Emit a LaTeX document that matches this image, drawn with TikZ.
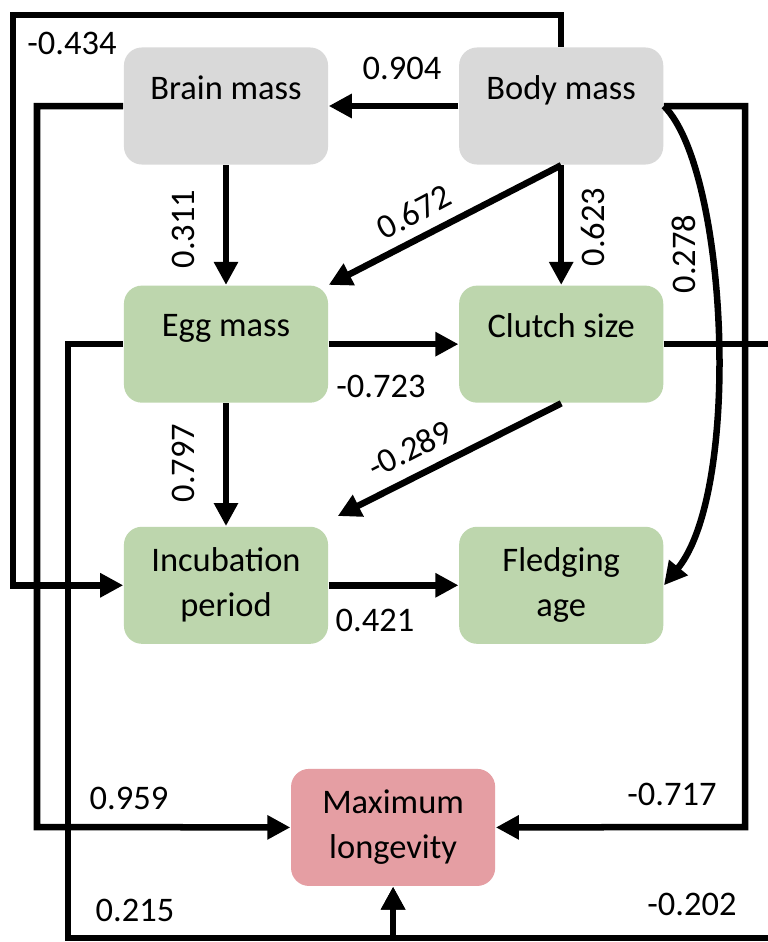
\documentclass[tikz,border=0pt]{standalone}
\usepackage{fontspec}
\setmainfont{Carlito}
\usetikzlibrary{arrows.meta,calc}

\definecolor{boxgray}{RGB}{217,217,217}
\definecolor{boxgreen}{RGB}{189,214,173}
\definecolor{boxred}{RGB}{229,158,163}

\tikzset{
  trait/.style={rounded corners=0.18cm, minimum width=2.04cm, minimum height=1.17cm,
    align=center, inner sep=0pt, font=\fontsize{9.8}{12.8}\selectfont},
  wt/.style={inner sep=0pt, font=\fontsize{9.8}{12}\selectfont},
  link/.style={line width=0.065cm, -{Triangle[length=0.23cm,width=0.23cm]}}
}

\begin{document}
\begin{tikzpicture}[x=0.01cm,y=-0.01cm]
      \path[use as bounding box, fill=white] (0,0) rectangle (768,942);

      % traits
      \node[trait, fill=boxgray] (brain) at (226,106) {Brain mass\\[-6pt]\strut};
      \node[trait, fill=boxgray, right of=brain, xshift=2.35cm] (body) {Body mass\\[-6pt]\strut};
      \node[trait, fill=boxgreen, below of=brain, yshift=-1.38cm] (egg) {Egg mass\\[-6pt]\strut};
      \node[trait, fill=boxgreen, right of=egg, xshift=2.35cm] (clutch) {Clutch size\\[-6pt]\strut};
      \node[trait, fill=boxgreen, below of=egg, yshift=-1.41cm] (inc) {Incubation\\period};
      \node[trait, fill=boxgreen, right of=inc, xshift=2.35cm] (fledge) {Fledging\\age};
      \node[trait, fill=boxred, below of=inc, yshift=-1.42cm, xshift=1.67cm] (long) {Maximum\\longevity};

      % corners of the long links
      \coordinate (c434) at (13,15);
      \coordinate (c959) at (37,827);
      \coordinate (c717) at (745,827);
      \coordinate (c215) at (68,938);
      \coordinate (c202) at (772,938);

      \draw[link] (body) -- (brain);
      \draw[link] (brain) -- (egg);
      \draw[link] (body.south) -- (egg.north east);
      \draw[link] (body) -- (clutch);
      \draw[link] (egg) -- (clutch);
      \draw[link] (egg) -- (inc);
      \draw[link] (clutch.south) -- ($(inc.north east)+(9,-10)$);
      \draw[link] (inc) -- (fledge);
      \draw[link] (body.east) .. controls (728,170) and (742,490) .. (fledge.east);
      \draw[link] (body.north) |- (c434) |- (inc.west);
      \draw[link] (brain.west) -| (c959) -- (long.west);
      \draw[link] (body.east) -| (c717) -- (long.east);
      \draw[link] (egg.west) -| (c215) -| (long.south);
      \draw[link] (clutch.east) -| (c202) -| (long.south);

      % weights
      \node[wt] (w434) at (72,43) {-0.434};
      \node[wt] (w904) at (402,68) {0.904};
      \node[wt, rotate=90] (w311) at (183,229) {0.311};
      \node[wt, rotate=28] (w672) at (414,212) {0.672};
      \node[wt, rotate=90] (w623) at (593,227) {0.623};
      \node[wt, rotate=90] (w278) at (684,254) {0.278};
      \node[wt] (w723) at (381,386) {-0.723};
      \node[wt, rotate=90] (w797) at (183,463) {0.797};
      \node[wt, rotate=27] (w289) at (410,449) {-0.289};
      \node[wt] (w421) at (375,620) {0.421};
      \node[wt] (w959) at (129,798) {0.959};
      \node[wt] (w717) at (672,794) {-0.717};
      \node[wt] (w215) at (135,910) {0.215};
      \node[wt] (w202) at (692,904) {-0.202};
    \end{tikzpicture}
\end{document}
